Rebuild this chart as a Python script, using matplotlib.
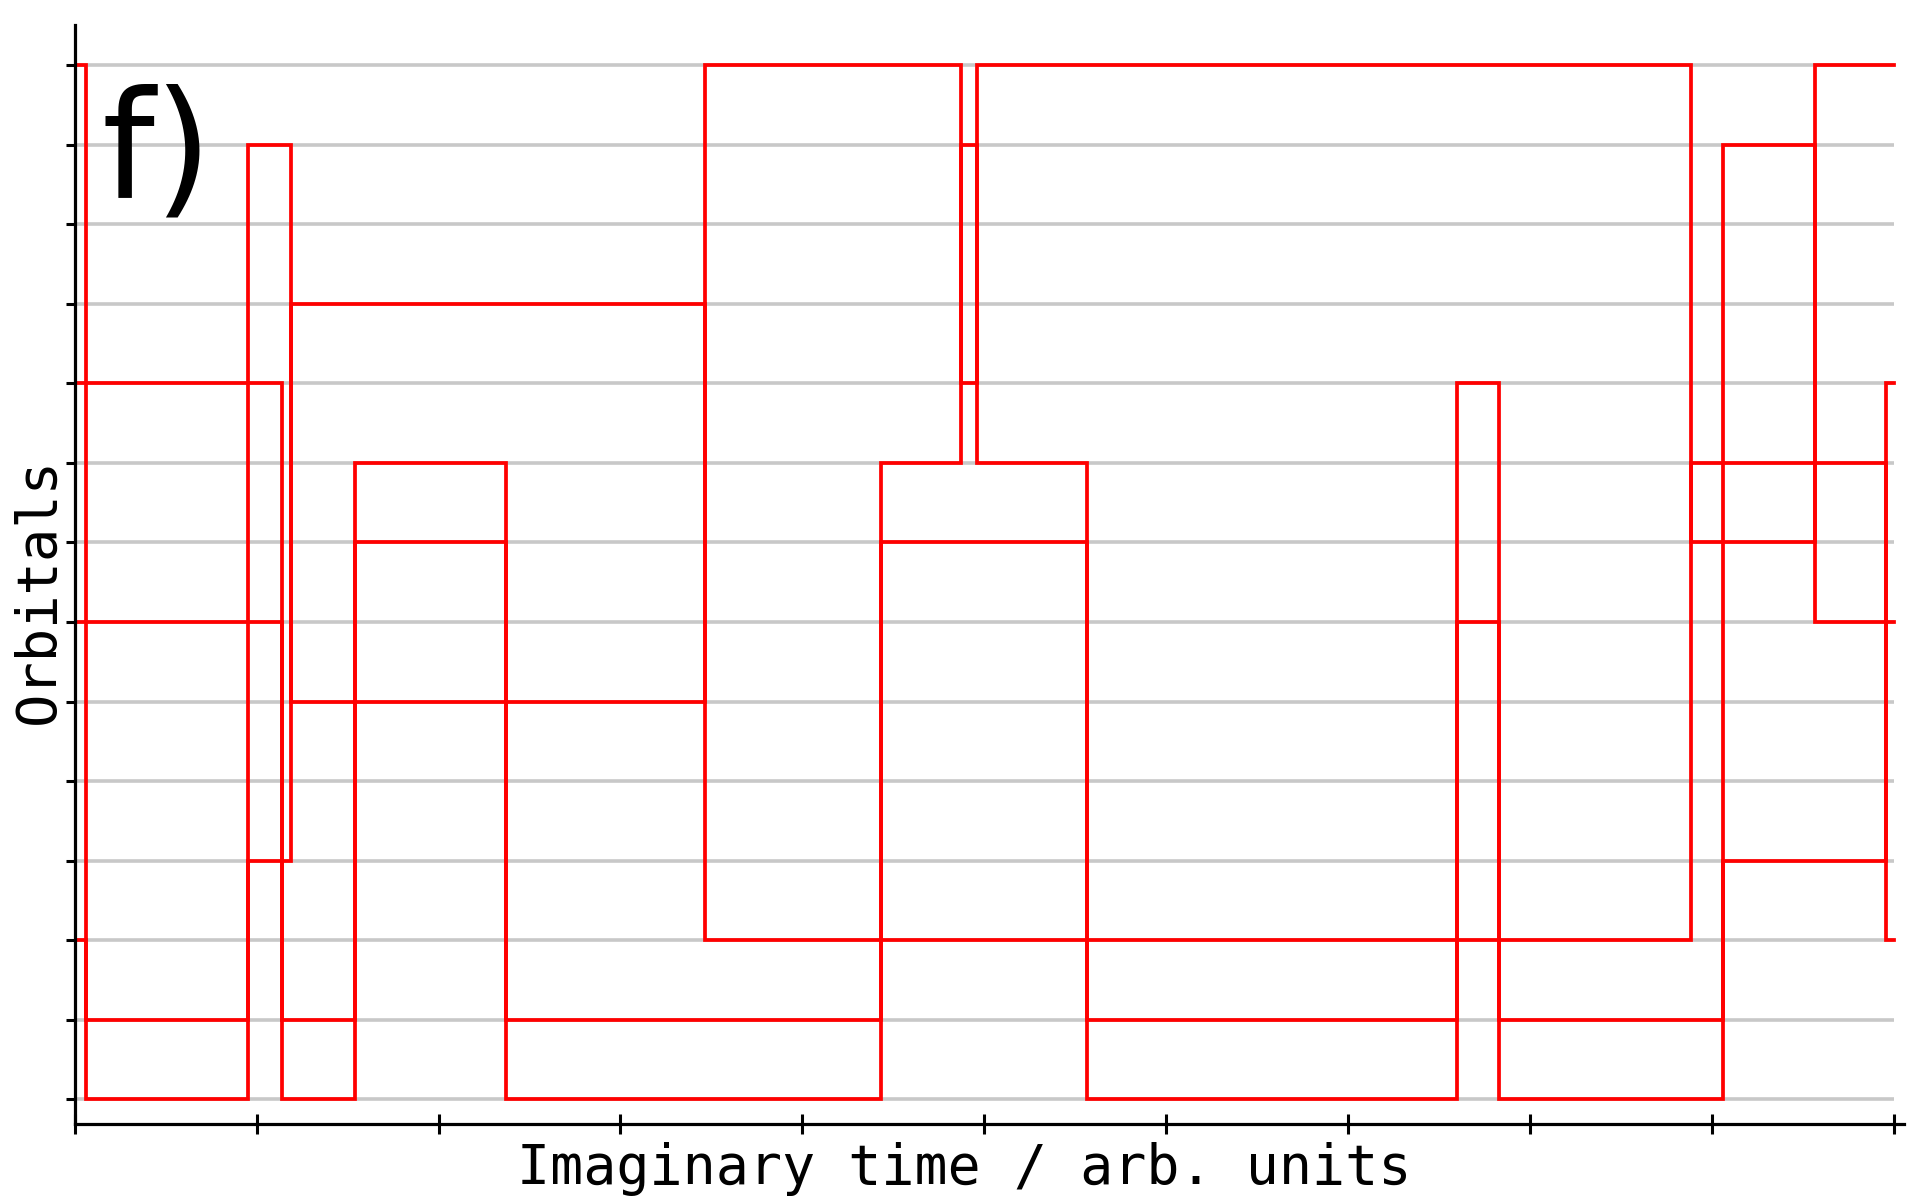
import matplotlib
matplotlib.use("Agg")
import matplotlib.pyplot as plt
import numpy as np

# ---- data ----
orbitals = list(range(14))           # orbital levels 0..13
x_ticks = list(range(11))            # imaginary time ticks 0..10
beta = 10.0

# worldlines: start orbital, jump times, orbital after each jump
wl_A_start = 13
wl_A_times = [0.0605, 0.9535, 1.189, 3.466, 4.870, 4.959, 8.883, 9.569]
wl_A_orbs = [0, 12, 5, 13, 9, 13, 7, 13]

wl_B_start = 9
wl_B_times = [1.137, 1.541, 2.371, 4.430, 4.870, 4.959, 5.563, 7.597, 7.831, 9.058, 9.569]
wl_B_orbs = [0, 8, 0, 8, 12, 8, 0, 9, 0, 12, 6]

wl_C_start = 6
wl_C_times = [1.137, 1.541, 2.371, 4.430, 5.563, 7.597, 7.831, 9.058, 9.959]
wl_C_orbs = [1, 7, 1, 7, 1, 6, 1, 3, 9]

wl_D_start = 2
wl_D_times = [0.0605, 0.9535, 1.189, 3.466, 8.883, 9.959]
wl_D_orbs = [1, 3, 10, 2, 8, 2]

panel_label = "f)"
xlabel = "Imaginary time / arb. units"
ylabel = "Orbitals"

# ---- figure ----
fig = plt.figure(figsize=(19.2, 12), dpi=100)
ax = fig.add_axes([0.0389, 0.0631, 0.9530, 0.9162])

ax.hlines(orbitals, 0, beta, colors="#c8c8c8", linewidth=2.6, zorder=1)

worldlines = [
    (wl_A_start, wl_A_times, wl_A_orbs),
    (wl_B_start, wl_B_times, wl_B_orbs),
    (wl_C_start, wl_C_times, wl_C_orbs),
    (wl_D_start, wl_D_times, wl_D_orbs),
]
for start, times, orbs in worldlines:
    xs = [0.0] + list(times) + [beta]
    ys = [start] + list(orbs) + [orbs[-1]]
    ax.plot(xs, ys, drawstyle="steps-post", color="#ff0000", linewidth=2.7,
            solid_joinstyle="miter", zorder=2)

ax.set_xlim(0, 10.058)
ax.set_ylim(-0.313, 13.505)

ax.set_xticks(x_ticks)
ax.set_yticks(orbitals)
ax.set_xticklabels([])
ax.set_yticklabels([])
ax.tick_params(axis="x", direction="inout", length=14, width=2.2)
ax.tick_params(axis="y", direction="out", length=6.5, width=2.2)

for s in ["top", "right"]:
    ax.spines[s].set_visible(False)
for s in ["left", "bottom"]:
    ax.spines[s].set_linewidth(2.3)

ax.set_xlabel(xlabel, fontfamily="DejaVu Sans Mono", fontsize=39.6)
ax.set_ylabel(ylabel, fontfamily="DejaVu Sans Mono", fontsize=40)
ax.xaxis.set_label_coords(0.4863, -0.016)
ax.yaxis.set_label_coords(-0.0052, 0.4857)

ax.text(0.0147, 0.8432, panel_label, transform=ax.transAxes, fontsize=108,
        fontfamily="DejaVu Sans", va="baseline", ha="left")

fig.savefig("out.png", dpi=100)
